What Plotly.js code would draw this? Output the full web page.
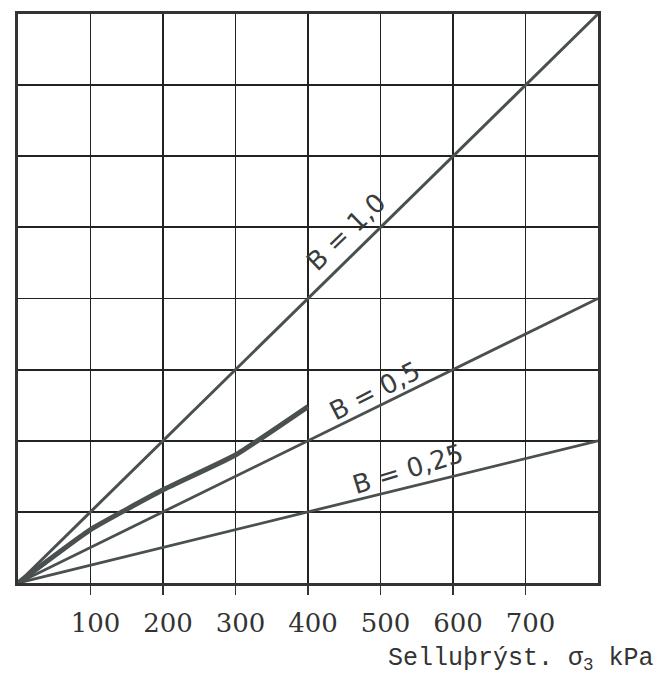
<!DOCTYPE html>
<html><head><meta charset="utf-8">
<script src="https://cdn.plot.ly/plotly-3.0.1.min.js"></script>
<style>body{margin:0;background:#fff}#c{width:667px;height:675px}</style>
</head><body><div id="c"></div>
<script>
// Cell pressure sigma3 (kPa) and pore pressure lines for B values
const xEnds = [0, 800];
const lineB1 = [0, 800];     // B = 1,0
const lineB05 = [0, 400];    // B = 0,5
const lineB025 = [0, 200];   // B = 0,25
const measX = [0, 100, 200, 300, 400];
const measY = [0, 75, 131, 180, 248];
const tickVals = [100, 200, 300, 400, 500, 600, 700];
const tickLabels = ['100', '200', '300', '400', '500', '600', '700'];
const labelText = ['B = 1,0', 'B = 0,5', 'B = 0,25'];
const labelX = [452, 492, 538];
const labelY = [494, 270, 160];
const labelAngle = [-44, -27, -17];
const axisTitle = 'Selluþrýst. σ<sub>3</sub> kPa';

const lineCol = '#4a4f4f';
const traces = [
  {x: xEnds, y: lineB1, mode: 'lines', line: {color: lineCol, width: 3}},
  {x: xEnds, y: lineB05, mode: 'lines', line: {color: lineCol, width: 2.8}},
  {x: xEnds, y: lineB025, mode: 'lines', line: {color: lineCol, width: 2.8}},
  {x: measX, y: measY, mode: 'lines', line: {color: lineCol, width: 5, shape: 'spline', smoothing: 0.4}}
];
const annotations = labelText.map((t, i) => ({
  x: labelX[i], y: labelY[i], xref: 'x', yref: 'y', text: t, showarrow: false,
  textangle: labelAngle[i], font: {family: 'DejaVu Sans', size: 26, color: '#3a3d3d'}
}));
annotations.push({
  x: 1.1, y: -0.134, xref: 'paper', yref: 'paper', xanchor: 'right', yanchor: 'middle',
  text: axisTitle, showarrow: false,
  font: {family: 'Liberation Mono', size: 25, color: '#333'}
});
const layout = {
  width: 667, height: 675,
  margin: {l: 18, r: 69, t: 14, b: 92},
  paper_bgcolor: '#fff', plot_bgcolor: '#fff',
  showlegend: false,
  xaxis: {range: [0, 800], tickvals: tickVals, ticktext: tickLabels,
    showgrid: true, gridcolor: '#222', gridwidth: 1.8,
    showline: true, mirror: true, linecolor: '#333', linewidth: 2.8,
    ticks: 'outside', ticklen: 9, tickwidth: 1.8, tickcolor: '#333',
    ticklabelshift: 5, ticklabelstandoff: 6,
    tickfont: {family: 'DejaVu Serif', size: 26, color: '#333'}, zeroline: false},
  yaxis: {range: [0, 800], dtick: 100, showticklabels: false,
    showgrid: true, gridcolor: '#222', gridwidth: 1.8,
    showline: true, mirror: true, linecolor: '#333', linewidth: 2.8,
    ticks: '', zeroline: false},
  annotations: annotations
};
Plotly.newPlot('c', traces, layout, {staticPlot: true});
</script></body></html>
